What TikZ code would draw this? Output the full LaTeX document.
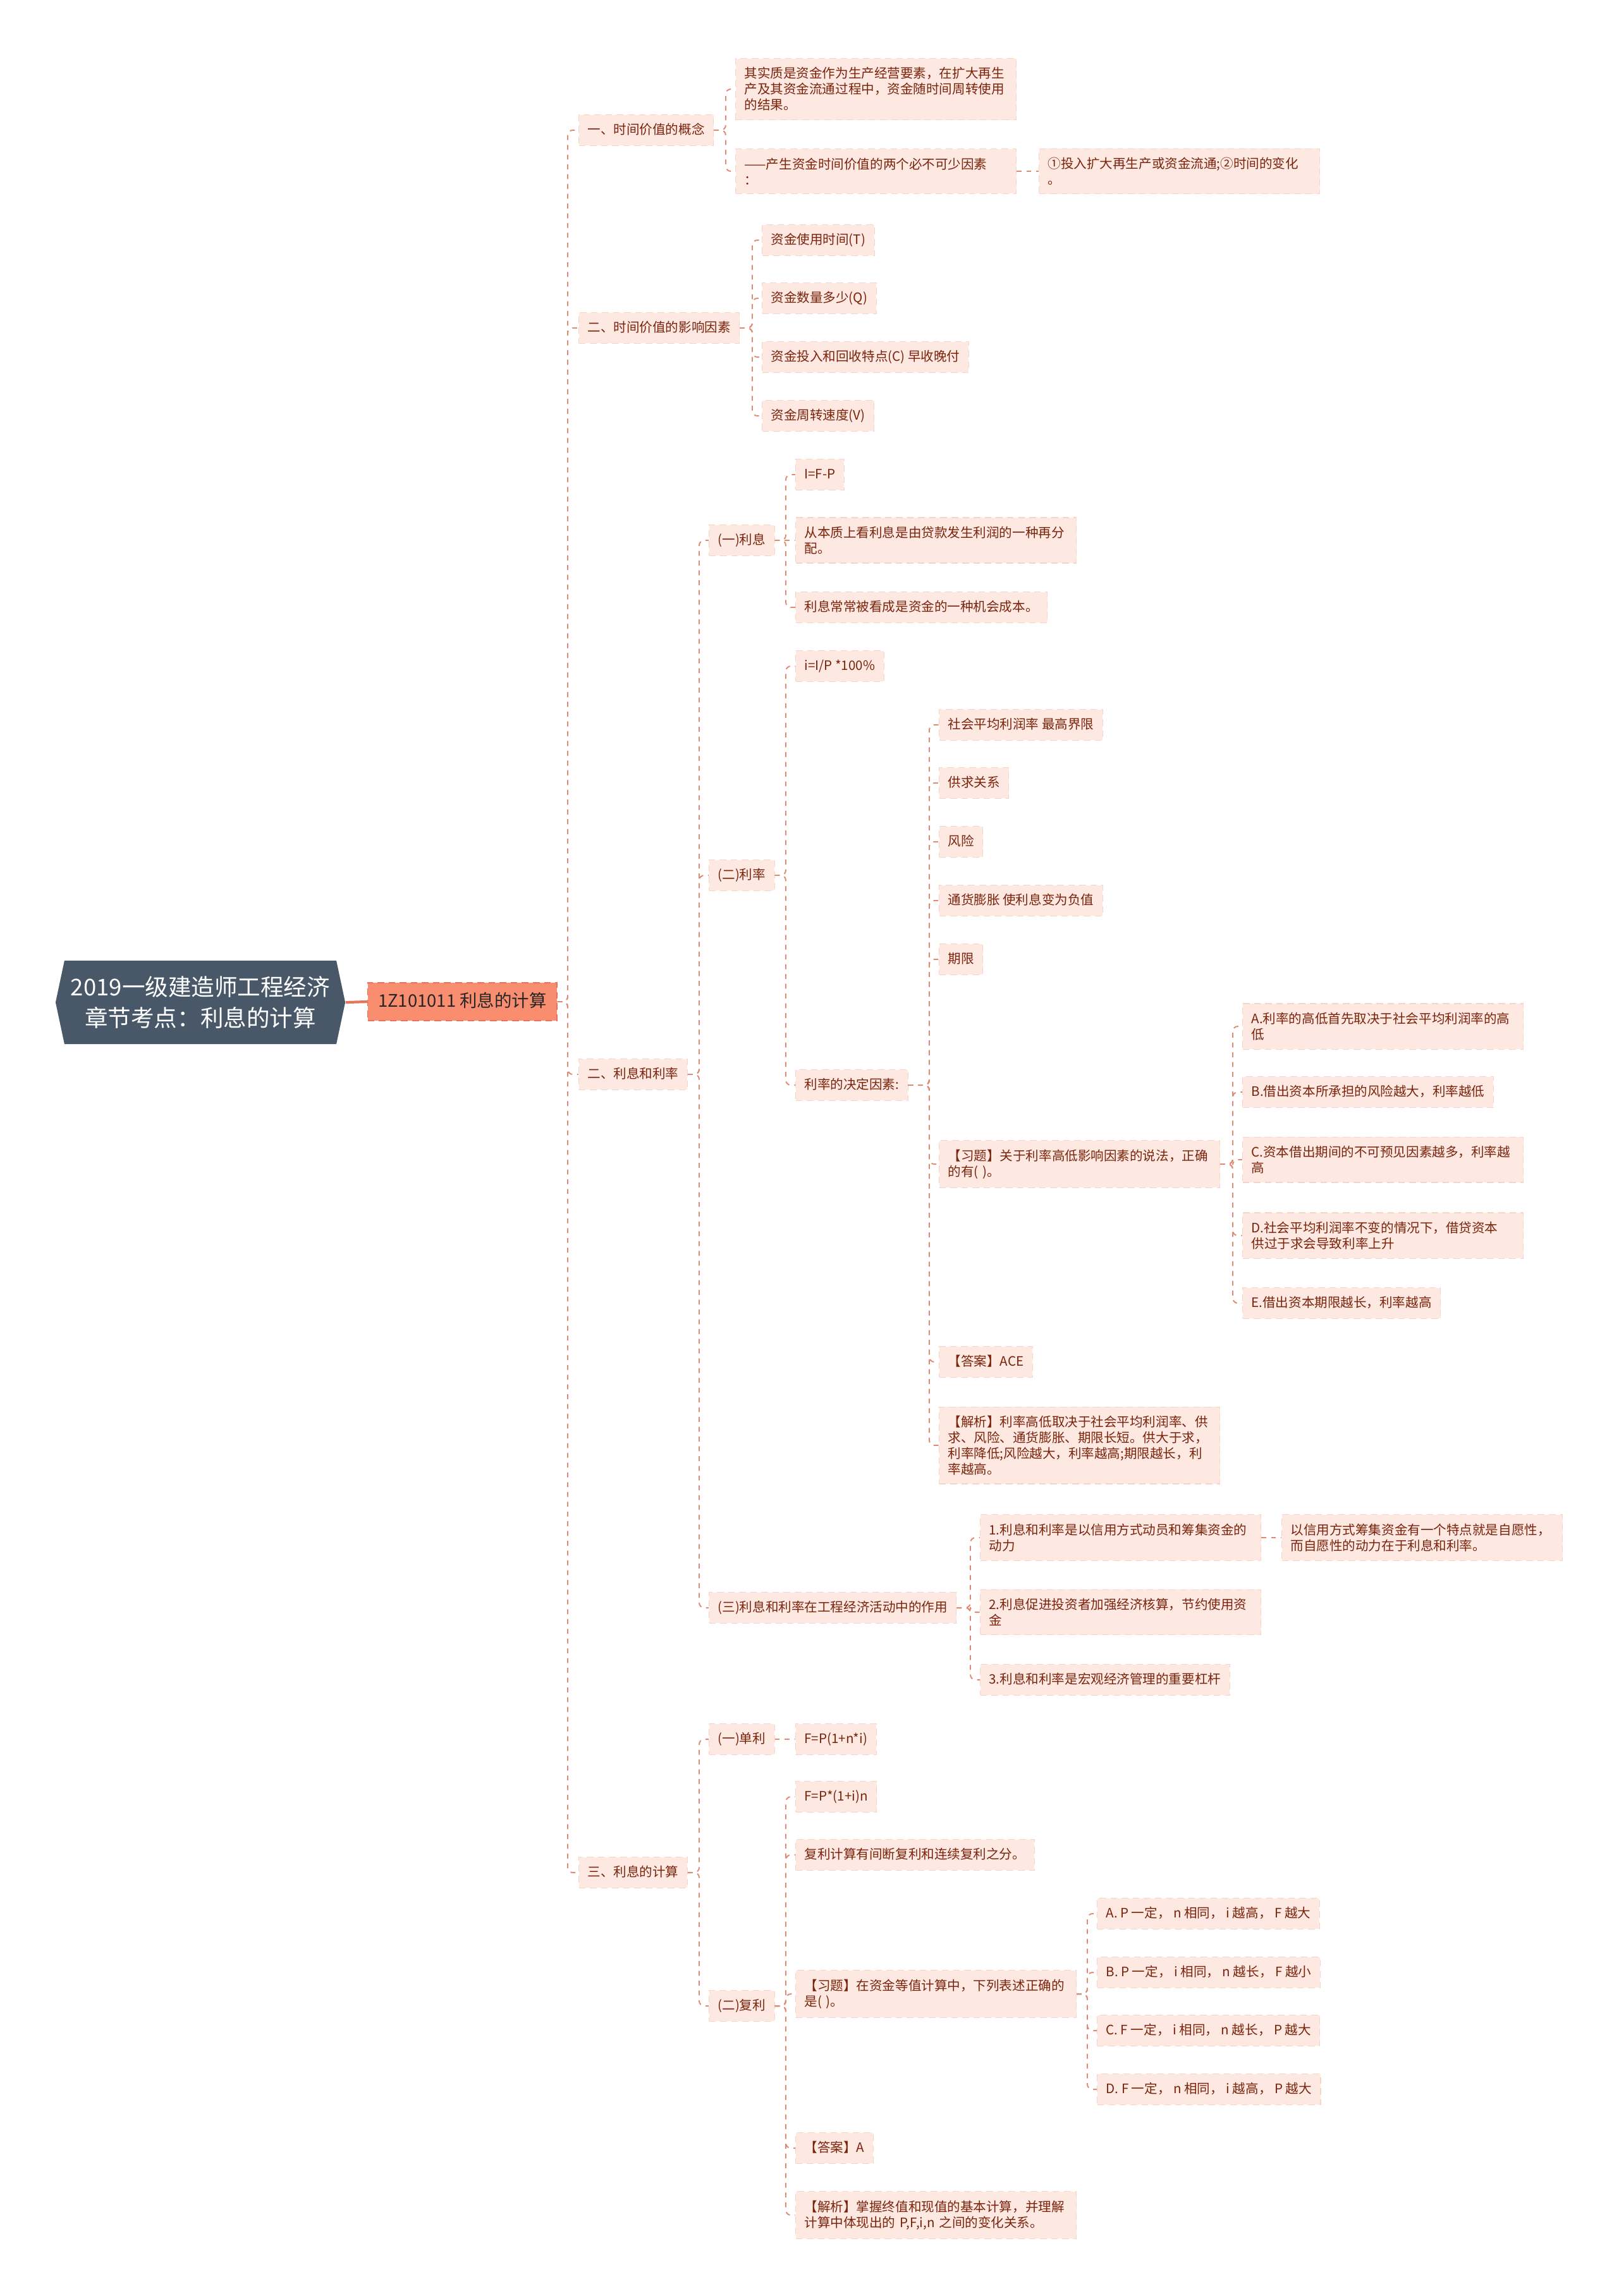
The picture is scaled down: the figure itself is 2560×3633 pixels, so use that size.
\documentclass[tikz,border=0pt]{standalone}
\usepackage{fontspec}
\setmainfont{Noto Sans CJK SC}
\usetikzlibrary{shapes.symbols}

\definecolor{rootbg}{HTML}{485868}
\definecolor{topicbg}{HTML}{F98D6F}
\definecolor{topicline}{HTML}{E5755A}
\definecolor{leafbg}{HTML}{FDE8E2}
\definecolor{leafline}{HTML}{F7D4C8}
\definecolor{leaftext}{HTML}{7A240C}
\definecolor{linkcol}{HTML}{DF8A73}

\tikzset{
  box/.style={rectangle, fill=leafbg, draw=leafline, densely dashed, line width=0.3pt,
    text=leaftext, anchor=west, inner xsep=1.4mm, inner ysep=1.4mm,
    font=\fontsize{5.85pt}{7.1pt}\selectfont},
  leaf/.style={box, text height=1.7mm, text depth=0.35mm},
  wide/.style={box, text width=41.6mm, align=left},
  link/.style={linkcol, line width=0.55pt, dash pattern=on 2.2pt off 2.2pt, rounded corners=0.8mm},
}

\begin{document}
\begin{tikzpicture}[x=0.1mm, y=-0.1mm]
    \useasboundingbox (0,0) rectangle (2560,3633);

    % Root and main topic
    \node[signal, signal to=west and east, signal pointer angle=156, fill=rootbg, text=white,
          minimum width=45.5mm, minimum height=13.2mm, align=center, inner sep=1mm,
          font=\fontsize{10.4pt}{14pt}\selectfont] (root) at (317,1586)
          {2019一级建造师工程经济\\章节考点：利息的计算};
    \node[rectangle, fill=topicbg, draw=topicline, densely dashed, line width=0.4pt, anchor=west,
          text=black!85, inner xsep=1.65mm, inner ysep=1.7mm, text height=2.1mm, text depth=0.5mm,
          font=\fontsize{7.8pt}{9pt}\selectfont] (topic) at (581,1585) {1Z101011 利息的计算};
    \draw[topicline, line width=1.2pt] (root.east) -- (topic.west);

    % Sections
    \node[leaf] (s1) at (915,206) {一、时间价值的概念};
    \node[leaf] (s2) at (915,519) {二、时间价值的影响因素};
    \node[leaf] (s3) at (915,1700) {二、利息和利率};
    \node[leaf] (s4) at (915,2963) {三、利息的计算};
    \foreach \c in {s1,s2,s3,s4}
        \draw[link] (topic.east) -| ([xshift=-1.7mm]\c.west) -- (\c.west);

    % 一、时间价值的概念
    \node[wide] (s1a) at (1163,141) {其实质是资金作为生产经营要素，在扩大再生\\产及其资金流通过程中，资金随时间周转使用\\的结果。};
    \node[wide] (s1b) at (1163,271) {——产生资金时间价值的两个必不可少因素\\：};
    \node[wide] (s1b1) at (1643,271) {①投入扩大再生产或资金流通;②时间的变化\\。};
    \foreach \c in {s1a,s1b}
        \draw[link] (s1.east) -| ([xshift=-1.5mm]\c.west) -- (\c.west);
    \draw[link] (s1b.east) -- (s1b1.west);

    % 二、时间价值的影响因素
    \node[leaf] (s2a) at (1205,380) {资金使用时间(T)};
    \node[leaf] (s2b) at (1205,472) {资金数量多少(Q)};
    \node[leaf] (s2c) at (1205,565) {资金投入和回收特点(C) 早收晚付};
    \node[leaf] (s2d) at (1205,658) {资金周转速度(V)};
    \foreach \c in {s2a,s2b,s2c,s2d}
        \draw[link] (s2.east) -| ([xshift=-1.5mm]\c.west) -- (\c.west);

    % 二、利息和利率
    \node[leaf] (r1) at (1121,855) {(一)利息};
    \node[leaf] (r2) at (1121,1385) {(二)利率};
    \node[leaf] (r3) at (1121,2544) {(三)利息和利率在工程经济活动中的作用};
    \foreach \c in {r1,r2,r3}
        \draw[link] (s3.east) -| ([xshift=-1.5mm]\c.west) -- (\c.west);

    % (一)利息
    \node[leaf] (r1a) at (1258,751) {I=F-P};
    \node[wide] (r1b) at (1258,855) {从本质上看利息是由贷款发生利润的一种再分\\配。};
    \node[leaf] (r1c) at (1258,961) {利息常常被看成是资金的一种机会成本。};
    \foreach \c in {r1a,r1c}
        \draw[link] (r1.east) -| ([xshift=-1.5mm]\c.west) -- (\c.west);
    \draw[link] (r1.east) -- (r1b.west);

    % (二)利率
    \node[leaf] (r2a) at (1258,1054) {i=I/P *100\%};
    \node[leaf] (r2b) at (1258,1717) {利率的决定因素:};
    \foreach \c in {r2a,r2b}
        \draw[link] (r2.east) -| ([xshift=-1.5mm]\c.west) -- (\c.west);

    % 利率的决定因素
    \node[leaf] (f1) at (1485,1147) {社会平均利润率 最高界限};
    \node[leaf] (f2) at (1485,1239) {供求关系};
    \node[leaf] (f3) at (1485,1332) {风险};
    \node[leaf] (f4) at (1485,1425) {通货膨胀 使利息变为负值};
    \node[leaf] (f5) at (1485,1518) {期限};
    \node[wide] (f6) at (1485,1842) {【习题】关于利率高低影响因素的说法，正确\\的有( )。};
    \node[leaf] (f7) at (1485,2155) {【答案】ACE};
    \node[wide] (f8) at (1485,2287) {【解析】利率高低取决于社会平均利润率、供\\求、风险、通货膨胀、期限长短。供大于求，\\利率降低;风险越大，利率越高;期限越长，利\\率越高。};
    \foreach \c in {f1,f2,f3,f4,f5,f6,f7,f8}
        \draw[link] (r2b.east) -| ([xshift=-1.5mm]\c.west) -- (\c.west);

    % 习题 options
    \node[wide] (oa) at (1965,1624) {A.利率的高低首先取决于社会平均利润率的高\\低};
    \node[leaf] (ob) at (1965,1728) {B.借出资本所承担的风险越大，利率越低};
    \node[wide] (oc) at (1965,1835) {C.资本借出期间的不可预见因素越多，利率越\\高};
    \node[wide] (od) at (1965,1955) {D.社会平均利润率不变的情况下，借贷资本\\供过于求会导致利率上升};
    \node[leaf] (oe) at (1965,2062) {E.借出资本期限越长，利率越高};
    \foreach \c in {oa,ob,oc,od,oe}
        \draw[link] (f6.east) -| ([xshift=-1.5mm]\c.west) -- (\c.west);

    % (三)作用
    \node[wide] (u1) at (1550,2433) {1.利息和利率是以信用方式动员和筹集资金的\\动力};
    \node[wide] (u1a) at (2027,2433) {以信用方式筹集资金有一个特点就是自愿性，\\而自愿性的动力在于利息和利率。};
    \node[wide] (u2) at (1550,2551) {2.利息促进投资者加强经济核算，节约使用资\\金};
    \node[leaf] (u3) at (1550,2658) {3.利息和利率是宏观经济管理的重要杠杆};
    \foreach \c in {u1,u2,u3}
        \draw[link] (r3.east) -| ([xshift=-1.5mm]\c.west) -- (\c.west);
    \draw[link] (u1.east) -- (u1a.west);

    % 三、利息的计算
    \node[leaf] (c1) at (1121,2752) {(一)单利};
    \node[leaf] (c2) at (1121,3174) {(二)复利};
    \foreach \c in {c1,c2}
        \draw[link] (s4.east) -| ([xshift=-1.5mm]\c.west) -- (\c.west);
    \node[leaf] (c1a) at (1258,2752) {F=P(1+n*i)};
    \draw[link] (c1.east) -- (c1a.west);

    % (二)复利
    \node[leaf] (c2a) at (1258,2843) {F=P*(1+i)n};
    \node[leaf] (c2b) at (1258,2935) {复利计算有间断复利和连续复利之分。};
    \node[wide] (c2c) at (1258,3155) {【习题】在资金等值计算中，下列表述正确的\\是( )。};
    \node[leaf] (c2d) at (1258,3399) {【答案】A};
    \node[wide] (c2e) at (1258,3505) {【解析】掌握终值和现值的基本计算，并理解\\计算中体现出的 P,F,i,n 之间的变化关系。};
    \foreach \c in {c2a,c2b,c2c,c2d,c2e}
        \draw[link] (c2.east) -| ([xshift=-1.5mm]\c.west) -- (\c.west);

    % 复利 options
    \node[leaf] (q1) at (1735,3028) {A. P 一定， n 相同， i 越高， F 越大};
    \node[leaf] (q2) at (1735,3121) {B. P 一定， i 相同， n 越长， F 越小};
    \node[leaf] (q3) at (1735,3213) {C. F 一定， i 相同， n 越长， P 越大};
    \node[leaf] (q4) at (1735,3306) {D. F 一定， n 相同， i 越高， P 越大};
    \foreach \c in {q1,q2,q3,q4}
        \draw[link] (c2c.east) -| ([xshift=-1.5mm]\c.west) -- (\c.west);
\end{tikzpicture}
\end{document}
